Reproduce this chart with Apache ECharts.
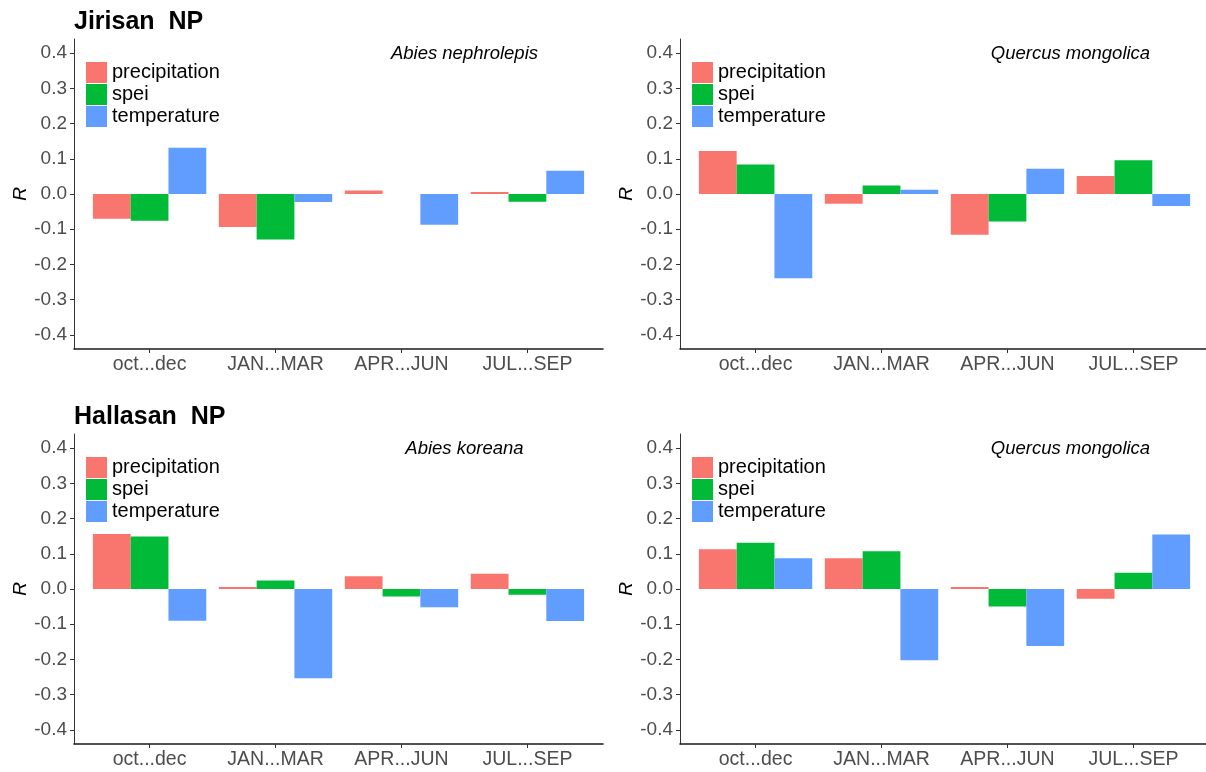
<!DOCTYPE html>
<html>
<head>
<meta charset="utf-8">
<script src="https://cdn.jsdelivr.net/npm/echarts@6/dist/echarts.min.js"></script>
<style>
  html, body { margin: 0; padding: 0; background: #fff; }
  #chart { width: 1206px; height: 772px; }
</style>
</head>
<body>
<div id="chart"></div>
<script>
// Seasonal windows on the x axis
const categories = ['oct...dec', 'JAN...MAR', 'APR...JUN', 'JUL...SEP'];
const seriesNames = ['precipitation', 'spei', 'temperature'];
const yTicks = [-0.4, -0.3, -0.2, -0.1, 0, 0.1, 0.2, 0.3, 0.4];

// Correlation coefficients R per climate variable
const jirisanAbiesPrecip = [-0.070, -0.094, 0.010, 0.006];
const jirisanAbiesSpei = [-0.076, -0.129, 0.000, -0.022];
const jirisanAbiesTemp = [0.131, -0.023, -0.087, 0.066];

const jirisanQuercusPrecip = [0.122, -0.028, -0.116, 0.051];
const jirisanQuercusSpei = [0.084, 0.024, -0.078, 0.096];
const jirisanQuercusTemp = [-0.239, 0.012, 0.072, -0.034];

const hallasanAbiesPrecip = [0.156, 0.006, 0.036, 0.043];
const hallasanAbiesSpei = [0.149, 0.024, -0.021, -0.016];
const hallasanAbiesTemp = [-0.090, -0.253, -0.052, -0.091];

const hallasanQuercusPrecip = [0.113, 0.087, 0.006, -0.028];
const hallasanQuercusSpei = [0.131, 0.107, -0.050, 0.046];
const hallasanQuercusTemp = [0.087, -0.202, -0.162, 0.155];

const colors = ['#F8766D', '#00BA38', '#619CFF'];
const FONT = "'Liberation Sans', Arial, sans-serif";

// Panel frame geometry (axis box) and layout of the discrete scale
const FRAME_W = 529, FRAME_H = 310;
const UNIT = FRAME_W / 4.2;          // one category step, 0.6 step padding each side
const Y_MIN = -0.44, Y_MAX = 0.44;

const panels = [
  { left: 74,  top: 39,  title: 'Jirisan  NP',  species: 'Abies nephrolepis',
    values: [jirisanAbiesPrecip, jirisanAbiesSpei, jirisanAbiesTemp] },
  { left: 680, top: 39,  title: null,           species: 'Quercus mongolica',
    values: [jirisanQuercusPrecip, jirisanQuercusSpei, jirisanQuercusTemp] },
  { left: 74,  top: 434, title: 'Hallasan  NP', species: 'Abies koreana',
    values: [hallasanAbiesPrecip, hallasanAbiesSpei, hallasanAbiesTemp] },
  { left: 680, top: 434, title: null,           species: 'Quercus mongolica',
    values: [hallasanQuercusPrecip, hallasanQuercusSpei, hallasanQuercusTemp] }
];

const option = {
  animation: false,
  backgroundColor: '#fff',
  textStyle: { fontFamily: FONT },
  title: [],
  grid: [],
  xAxis: [],
  yAxis: [],
  legend: [],
  series: [],
  graphic: []
};

panels.forEach((p, i) => {
  const fi = 2 * i, bi = 2 * i + 1;

  // Frame grid: carries the full-length axis lines and y labels
  option.grid.push({ left: p.left, top: p.top, width: FRAME_W, height: FRAME_H });
  // Bar grid: spans exactly the four category bands
  option.grid.push({ left: p.left + UNIT * 0.1, top: p.top, width: UNIT * 4, height: FRAME_H });

  option.xAxis.push({
    gridIndex: fi, type: 'value', min: 0, max: 1,
    axisLine: { show: true, onZero: false, lineStyle: { color: '#1a1a1a', width: 1.6 } },
    axisTick: { show: false }, axisLabel: { show: false }, splitLine: { show: false }
  });
  option.xAxis.push({
    gridIndex: bi, type: 'category', data: categories,
    axisLine: { show: false, onZero: false },
    axisTick: { show: true, alignWithLabel: true, length: 4, lineStyle: { color: '#333', width: 1 } },
    axisLabel: { fontSize: 19.5, color: '#4D4D4D', margin: 6, fontFamily: FONT },
    splitLine: { show: false }
  });

  option.yAxis.push({
    gridIndex: fi, type: 'value', min: Y_MIN, max: Y_MAX,
    axisLine: { show: true, onZero: false, lineStyle: { color: '#333', width: 1 } },
    axisTick: { show: true, length: 4, customValues: yTicks, lineStyle: { color: '#333', width: 1 } },
    axisLabel: {
      customValues: yTicks, fontSize: 19, color: '#4D4D4D', margin: 7, fontFamily: FONT,
      formatter: v => Number(v).toFixed(1)
    },
    splitLine: { show: false },
    name: 'R', nameLocation: 'middle', nameGap: 42, nameRotate: 90,
    nameTextStyle: { fontStyle: 'italic', fontSize: 19, color: '#000', fontFamily: FONT }
  });
  option.yAxis.push({ gridIndex: bi, type: 'value', min: Y_MIN, max: Y_MAX, show: false });

  seriesNames.forEach((name, k) => {
    option.series.push({
      type: 'bar', name: name,
      xAxisIndex: bi, yAxisIndex: bi,
      data: p.values[k],
      barGap: '0%', barCategoryGap: '10%',
      itemStyle: { color: colors[k] }
    });
  });

  option.legend.push({
    left: p.left + 12, top: p.top + 23, orient: 'vertical', padding: 0,
    icon: 'rect', itemWidth: 21, itemHeight: 21, itemGap: 1,
    selectedMode: false, data: seriesNames,
    textStyle: { fontSize: 20, color: '#000', lineHeight: 21, fontFamily: FONT }
  });

  if (p.title) {
    option.title.push({
      text: p.title, left: p.left, top: p.top - 29, padding: 0,
      textStyle: { fontSize: 25, fontWeight: 'bold', color: '#000', fontFamily: FONT }
    });
  }

  // Species name centred at x = 3.5 on the discrete scale, near R = 0.4
  option.graphic.push({
    type: 'text',
    style: {
      x: p.left + UNIT * 3.1, y: p.top + 15,
      text: p.species, align: 'center', verticalAlign: 'middle',
      font: 'italic 18.5px ' + FONT, fill: '#000'
    }
  });
});

const chart = echarts.init(document.getElementById('chart'), null, { renderer: 'canvas' });
chart.setOption(option);
</script>
</body>
</html>
